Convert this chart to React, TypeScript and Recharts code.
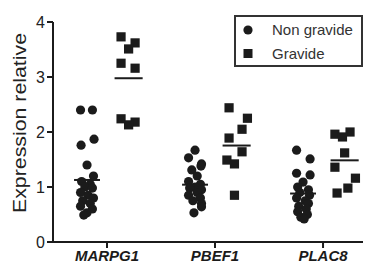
import { ScatterChart, Scatter, XAxis, YAxis, ReferenceLine, Label } from "recharts";

const categories = ["MARPG1", "PBEF1", "PLAC8"];

// expression values per category
const nonGravide = [
  [2.4, 2.4, 1.87, 1.76, 1.4, 1.2, 1.1, 1.05, 1.0, 0.98, 0.9, 0.85, 0.8, 0.75, 0.7, 0.65, 0.6, 0.53, 0.49],
  [1.67, 1.53, 1.42, 1.38, 1.31, 1.2, 1.1, 1.05, 1.0, 0.98, 0.95, 0.9, 0.85, 0.8, 0.75, 0.7, 0.64, 0.53],
  [1.67, 1.51, 1.25, 1.22, 1.09, 1.0, 0.95, 0.9, 0.85, 0.8, 0.75, 0.7, 0.65, 0.6, 0.55, 0.5, 0.45, 0.42],
];
const gravide = [
  [3.73, 3.62, 3.51, 3.25, 3.16, 2.24, 2.18, 2.13],
  [2.44, 2.25, 2.05, 1.89, 1.64, 1.49, 1.42, 0.85],
  [2.0, 1.96, 1.91, 1.62, 1.36, 1.16, 0.98, 0.89],
];

// horizontal spread of the dots (category units)
const nonGravideJitter = [
  [-0.06, 0.05, 0.065, -0.055, 0.0, 0.06, -0.05, 0.03, -0.02, 0.05, -0.06, 0.01, 0.06, -0.04, 0.03, -0.06, 0.05, 0.0, -0.03],
  [0.0, -0.06, 0.06, 0.055, -0.03, 0.02, -0.06, 0.05, 0.0, -0.05, 0.06, 0.02, -0.06, 0.05, -0.02, 0.06, 0.06, -0.01],
  [-0.06, 0.065, -0.06, 0.065, 0.0, -0.05, 0.05, -0.03, 0.06, -0.06, 0.02, 0.05, -0.04, 0.03, -0.05, 0.04, -0.02, 0.01],
];
const gravideJitter = [
  [-0.07, 0.06, 0.0, -0.07, 0.06, -0.07, 0.06, 0.0],
  [-0.07, 0.1, 0.05, -0.07, 0.05, -0.09, -0.02, -0.02],
  [0.05, -0.09, -0.02, 0.0, -0.09, 0.1, 0.03, -0.07],
];

const yTicks = [0, 1, 2, 3, 4];

const FONT = "'Liberation Sans', Arial, sans-serif";
const INK = "#1b1b1b";

const circleOffset = -0.185;
const squareOffset = 0.2;

const mean = (a: number[]) => a.reduce((s, v) => s + v, 0) / a.length;

const nonGravidePoints = nonGravide.flatMap((vals, i) =>
  vals.map((y, j) => ({ x: i + 1 + circleOffset + nonGravideJitter[i][j], y }))
);
const gravidePoints = gravide.flatMap((vals, i) =>
  vals.map((y, j) => ({ x: i + 1 + squareOffset + gravideJitter[i][j], y }))
);

const Dot = (props: any) => <circle cx={props.cx} cy={props.cy} r={4.6} fill={INK} />;
const Square = (props: any) => (
  <rect x={props.cx - 4.6} y={props.cy - 4.6} width={9.2} height={9.2} fill={INK} />
);

const LegendBox = () => (
  <div
    style={{
      position: "absolute",
      left: 234,
      top: 15,
      border: "2px solid #333",
      width: 125,
      height: 48,
      fontFamily: FONT,
      fontSize: 15,
      color: "#333",
      background: "#fff",
    }}
  >
    <div style={{ display: "flex", alignItems: "center", height: 24 }}>
      <svg width={36} height={24}>
        <circle cx={12} cy={13} r={4.6} fill={INK} />
      </svg>
      <span>Non gravide</span>
    </div>
    <div style={{ display: "flex", alignItems: "center", height: 24 }}>
      <svg width={36} height={24}>
        <rect x={7.5} y={8} width={9} height={9} fill={INK} />
      </svg>
      <span>Gravide</span>
    </div>
  </div>
);

export default function App() {
  return (
    <div style={{ position: "fixed", left: 0, top: 0, width: 366, height: 265, background: "#fff" }}>
      <ScatterChart width={366} height={265} margin={{ top: 22, right: 3, bottom: 0, left: 0 }}>
        <XAxis
          type="number"
          dataKey="x"
          domain={[0.5, 3.37]}
          ticks={[1, 2, 3]}
          tickFormatter={(v: number) => categories[v - 1]}
          allowDataOverflow
          height={23}
          tickSize={6}
          axisLine={{ stroke: INK, strokeWidth: 2 }}
          tickLine={{ stroke: INK, strokeWidth: 2 }}
          tick={{ fill: INK, fontSize: 15, fontStyle: "italic", fontWeight: "bold", fontFamily: FONT }}
        />
        <YAxis
          type="number"
          dataKey="y"
          domain={[0, 4]}
          ticks={yTicks}
          width={53}
          tickSize={6}
          tickMargin={2}
          axisLine={{ stroke: INK, strokeWidth: 2 }}
          tickLine={{ stroke: INK, strokeWidth: 2 }}
          tick={{ fill: "#222", fontSize: 16, fontFamily: FONT }}
        >
          <Label
            content={() => (
              <text
                x={20}
                y={123}
                transform="rotate(-90 20 123)"
                textAnchor="middle"
                dominantBaseline="central"
                fontSize={18}
                fontFamily={FONT}
                fill="#222"
                textLength={180}
                lengthAdjust="spacingAndGlyphs"
              >
                Expression relative
              </text>
            )}
          />
        </YAxis>
        <Scatter name="Non gravide" data={nonGravidePoints} shape={Dot} isAnimationActive={false} />
        <Scatter name="Gravide" data={gravidePoints} shape={Square} isAnimationActive={false} />
        {nonGravide.map((vals, i) => (
          <ReferenceLine
            key={"ng" + i}
            segment={[
              { x: i + 1 + circleOffset - 0.12, y: mean(vals) },
              { x: i + 1 + circleOffset + 0.12, y: mean(vals) },
            ]}
            stroke={INK}
            strokeWidth={2}
          />
        ))}
        {gravide.map((vals, i) => (
          <ReferenceLine
            key={"g" + i}
            segment={[
              { x: i + 1 + squareOffset - 0.13, y: mean(vals) },
              { x: i + 1 + squareOffset + 0.13, y: mean(vals) },
            ]}
            stroke={INK}
            strokeWidth={2}
          />
        ))}
      </ScatterChart>
      <LegendBox />
    </div>
  );
}
